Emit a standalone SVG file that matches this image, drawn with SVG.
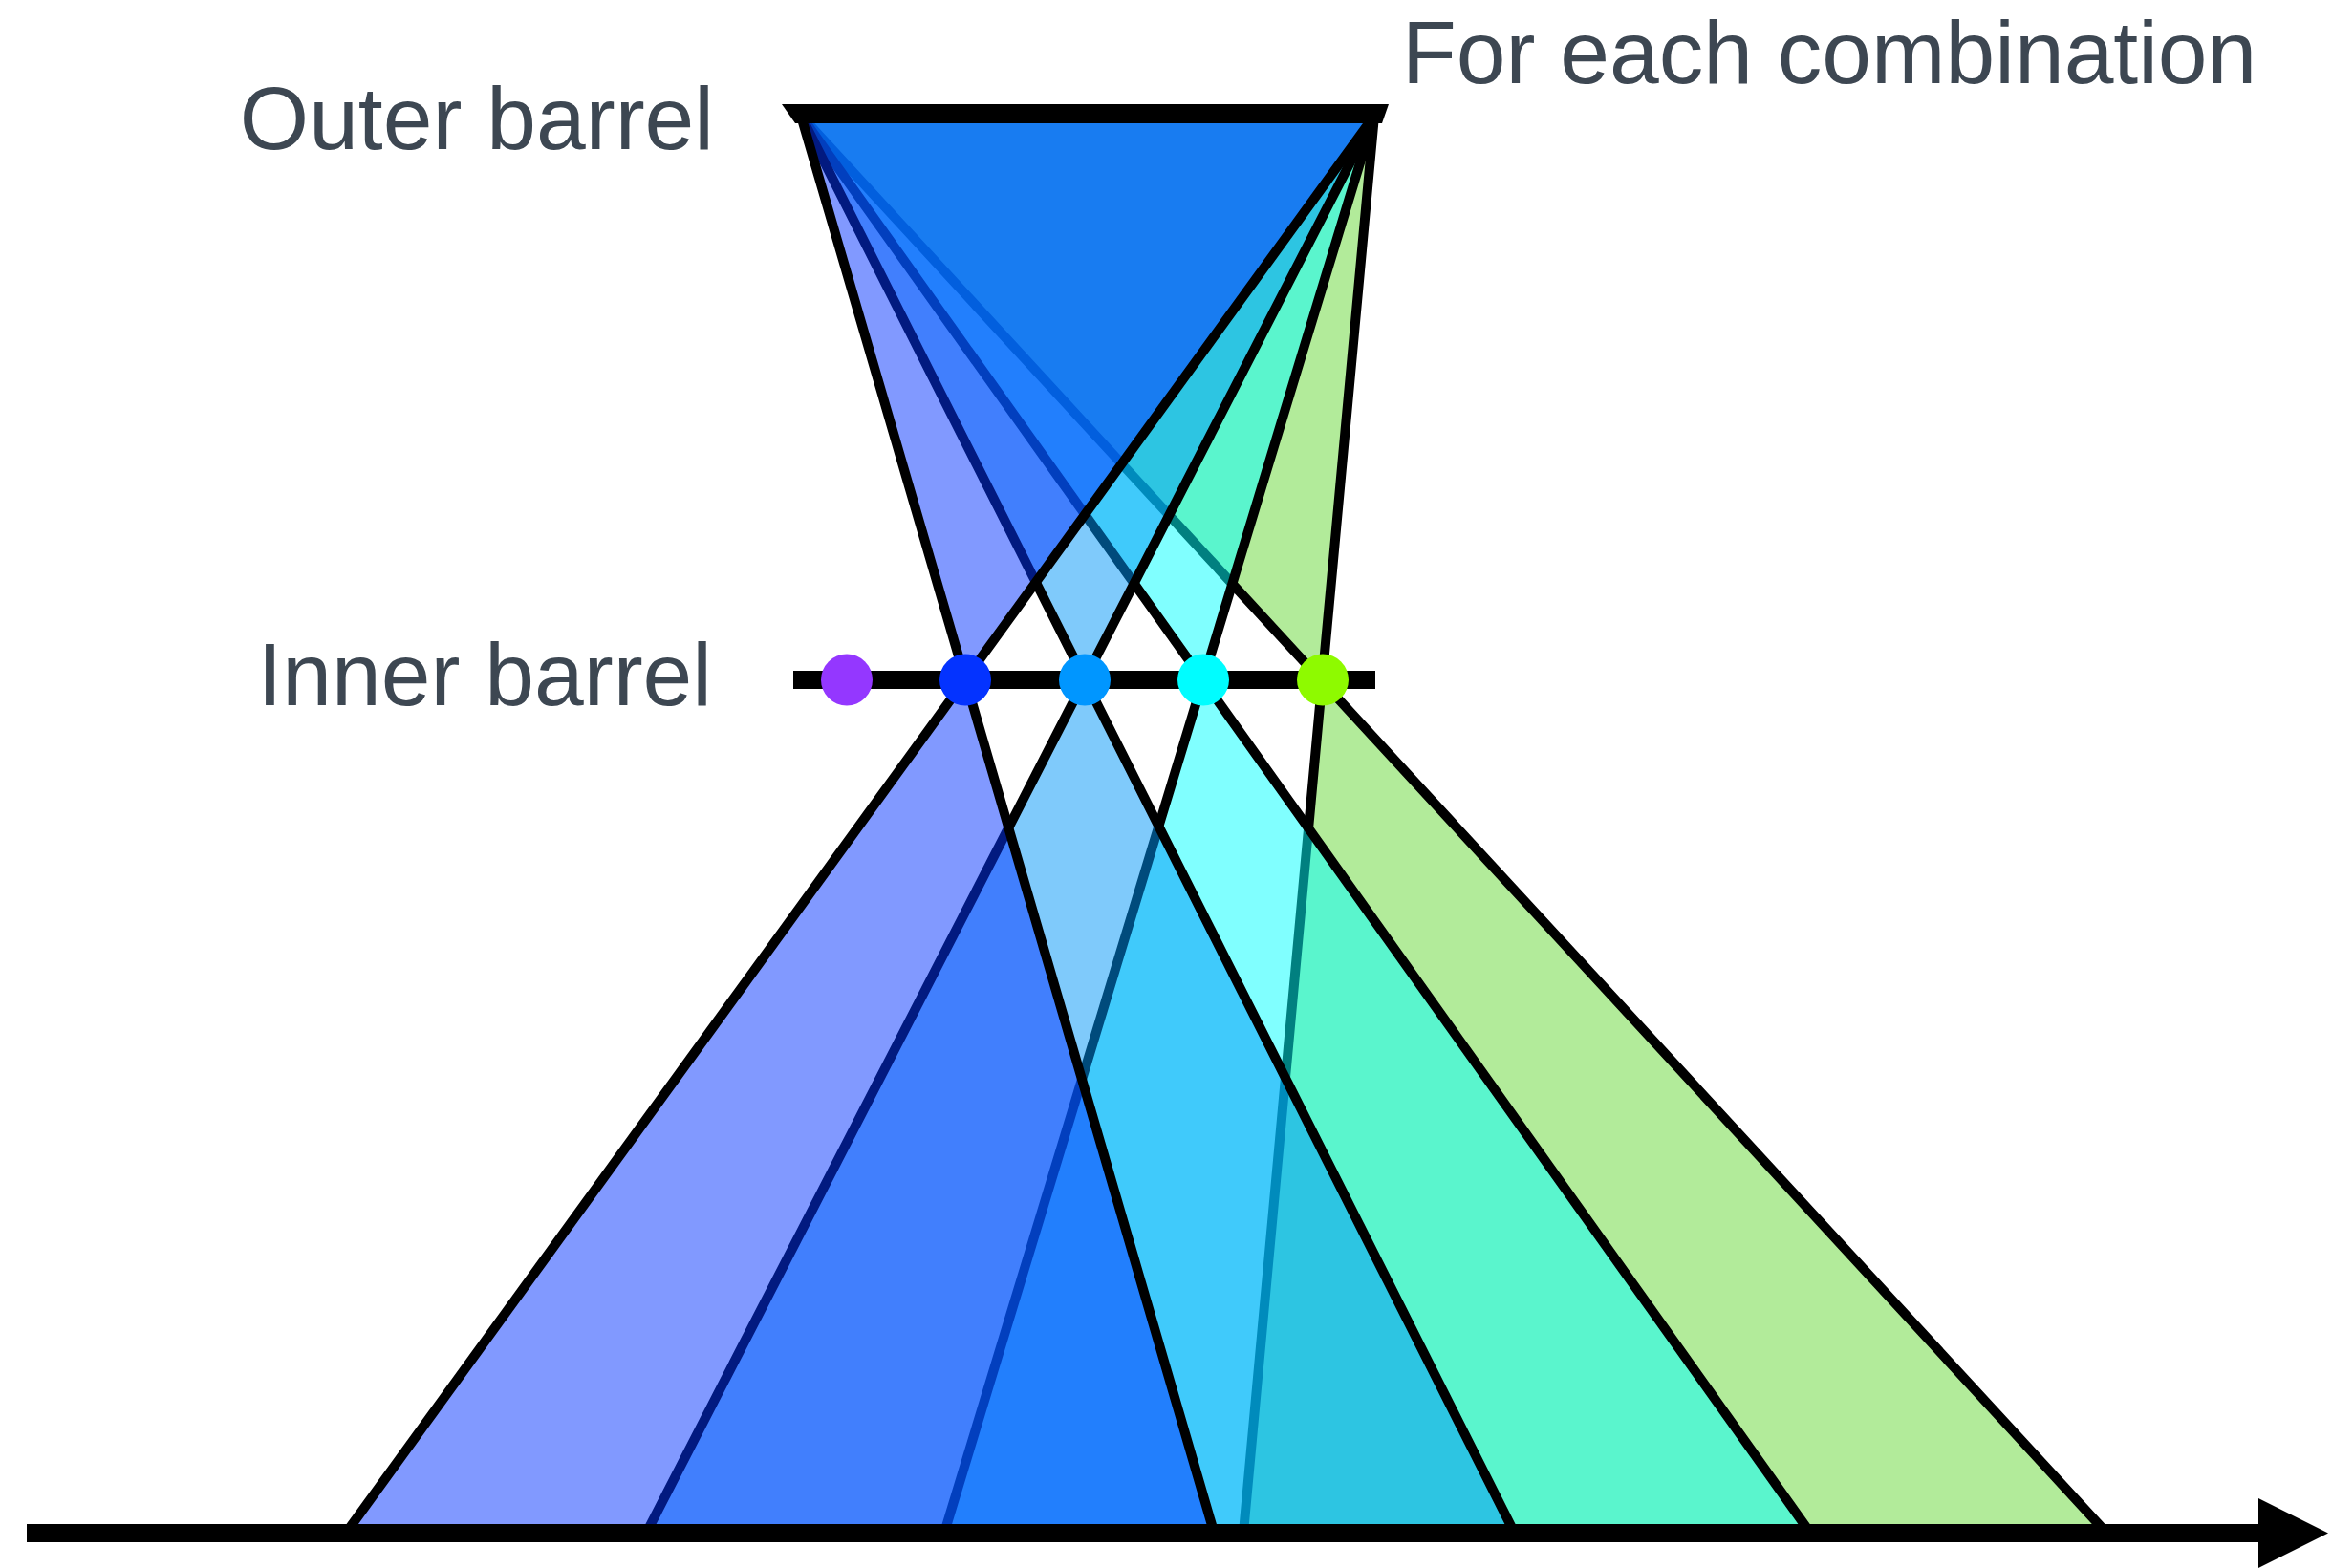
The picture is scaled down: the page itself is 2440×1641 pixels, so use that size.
<svg xmlns="http://www.w3.org/2000/svg" width="2440" height="1641" viewBox="0 0 2440 1641">
<style>
.cone{stroke:#000;stroke-width:10;stroke-linejoin:miter;fill-opacity:0.5}
.bar{stroke:#000;stroke-width:19;fill:none}
.lbl{font-family:"Liberation Sans",Arial,Helvetica,sans-serif;font-size:93px;fill:#3d4752}
</style>
<rect width="2440" height="1641" fill="#fff"/>
<g id="cones">
<path id="cone5" class="cone" fill="#66d836" d="M838,121 L1438,121 L1301,1604 L2204,1604 Z"/>
<path id="cone4" class="cone" fill="#02ffff" d="M838,121 L1438,121 L988.1,1604 L1894,1604 Z"/>
<path id="cone3" class="cone" fill="#0096f8" d="M838,121 L1438,121 L676.4,1604 L1584.5,1604 Z"/>
<path id="cone2" class="cone" fill="#0433ff" d="M838,121 L1438,121 L362.2,1604 L1270.3,1604 Z"/>
</g>
<g id="outer-barrel">
<polygon points="818,109 1453,109 1446,129 832,129" fill="#000"/>
</g>
<g id="axis">
<line class="bar" x1="28" y1="1604.5" x2="2366" y2="1604.5"/>
<polygon points="2363,1568 2436,1604.5 2363,1641" fill="#000"/>
</g>
<g id="inner-barrel">
<line class="bar" x1="830" y1="711.5" x2="1439" y2="711.5"/>
</g>
<g id="hits">
<circle id="hit1" cx="886" cy="711.5" r="27" fill="#9437ff"/>
<circle id="hit2" cx="1010" cy="711.5" r="27" fill="#0433ff"/>
<circle id="hit3" cx="1135" cy="711.5" r="27" fill="#0096ff"/>
<circle id="hit4" cx="1259" cy="711.5" r="27" fill="#00fdff"/>
<circle id="hit5" cx="1384" cy="711.5" r="27" fill="#8efa00"/>
</g>
<g id="labels">
<text class="lbl" x="747" y="156" text-anchor="end">Outer barrel</text>
<text class="lbl" x="745" y="738" text-anchor="end">Inner barrel</text>
<text class="lbl" x="1467" y="87">For each combination</text>
</g>
</svg>
